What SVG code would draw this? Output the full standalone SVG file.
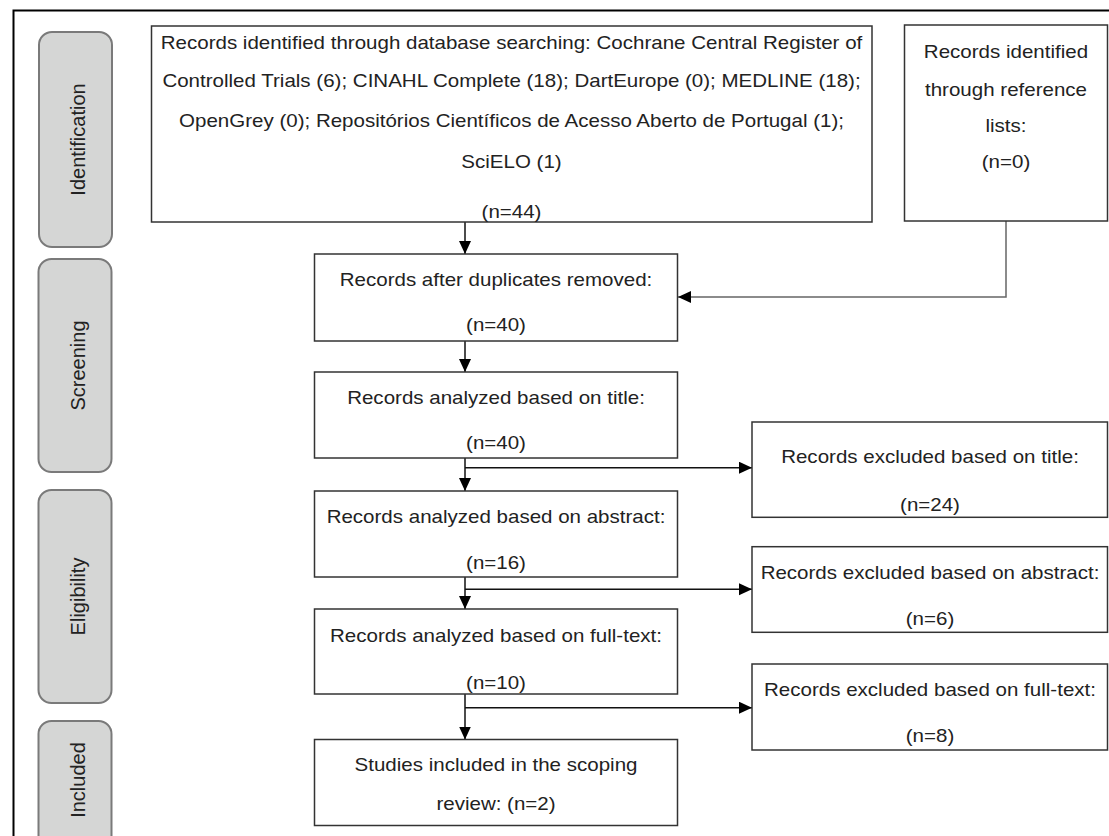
<svg xmlns="http://www.w3.org/2000/svg" width="1109" height="836" viewBox="0 0 1109 836">
<style>
.bg{fill:#ffffff}
.frame{fill:none;stroke:#000;stroke-width:2}
.pill{fill:#d5d6d5;stroke:#7a7a7a;stroke-width:2}
.box{fill:#fff;stroke:#333;stroke-width:1.5}
.t{font-family:"Liberation Sans",Arial,sans-serif;font-size:17.7px;fill:#222;text-anchor:middle}
.pt{font-family:"Liberation Sans",Arial,sans-serif;font-size:20px;fill:#222;text-anchor:middle}
.ln{fill:none;stroke:#111;stroke-width:1.5}
.lg{fill:none;stroke:#666;stroke-width:1.5}
</style>
<defs>
<marker id="ah" markerUnits="userSpaceOnUse" markerWidth="14" markerHeight="14" refX="13" refY="6" orient="auto">
<path d="M0,0 L13,6 L0,12 z" fill="#000"/>
</marker>
</defs>
<rect class="bg" x="0" y="0" width="1109" height="836"/>
<path class="frame" d="M13.5,840 V10.5 H1112"/>

<g id="lane-identification">
<rect class="pill" x="39" y="32" width="73" height="215" rx="13"/>
<text class="pt" transform="translate(85 139.5) rotate(-90)">Identification</text>
</g>
<g id="lane-screening">
<rect class="pill" x="38.5" y="259" width="73" height="213" rx="13"/>
<text class="pt" transform="translate(85 365.5) rotate(-90)">Screening</text>
</g>
<g id="lane-eligibility">
<rect class="pill" x="38.5" y="490" width="73" height="213" rx="13"/>
<text class="pt" transform="translate(85 596.5) rotate(-90)">Eligibility</text>
</g>
<g id="lane-included">
<rect class="pill" x="38.5" y="721" width="73" height="140" rx="13"/>
<text class="pt" transform="translate(85 780) rotate(-90)">Included</text>
</g>

<g id="connectors">
<path class="ln" d="M465,222 V254" marker-end="url(#ah)"/>
<path class="lg" d="M1006,221 V297 H678" marker-end="url(#ah)"/>
<path class="ln" d="M465,341 V372" marker-end="url(#ah)"/>
<path class="ln" d="M465,458 V491" marker-end="url(#ah)"/>
<path class="ln" d="M465,467.7 H752" marker-end="url(#ah)"/>
<path class="ln" d="M465,577 V609" marker-end="url(#ah)"/>
<path class="ln" d="M465,589.3 H752" marker-end="url(#ah)"/>
<path class="ln" d="M465,694 V739.5" marker-end="url(#ah)"/>
<path class="ln" d="M465,707.7 H752" marker-end="url(#ah)"/>
</g>

<g id="node-database">
<rect class="box" x="151.5" y="26" width="720.5" height="196"/>
<text class="t" transform="translate(511.5 48.5) scale(1.16 1)">Records identified through database searching: Cochrane Central Register of</text>
<text class="t" transform="translate(511.5 87) scale(1.16 1)">Controlled Trials (6); CINAHL Complete (18); DartEurope (0); MEDLINE (18);</text>
<text class="t" transform="translate(511.5 127) scale(1.16 1)">OpenGrey (0); Repositórios Científicos de Acesso Aberto de Portugal (1);</text>
<text class="t" transform="translate(511.5 168) scale(1.16 1)">SciELO (1)</text>
<text class="t" transform="translate(511.5 218) scale(1.16 1)">(n=44)</text>
</g>

<g id="node-reference">
<rect class="box" x="904.5" y="25" width="203" height="196"/>
<text class="t" transform="translate(1006 57.5) scale(1.16 1)">Records identified</text>
<text class="t" transform="translate(1006 95.5) scale(1.16 1)">through reference</text>
<text class="t" transform="translate(1006 132) scale(1.16 1)">lists:</text>
<text class="t" transform="translate(1006 167.5) scale(1.16 1)">(n=0)</text>
</g>

<g id="node-duplicates">
<rect class="box" x="314.5" y="254" width="363" height="87"/>
<text class="t" transform="translate(496 286) scale(1.16 1)">Records after duplicates removed:</text>
<text class="t" transform="translate(496 331) scale(1.16 1)">(n=40)</text>
</g>

<g id="node-title">
<rect class="box" x="314.5" y="372" width="363" height="86"/>
<text class="t" transform="translate(496 404) scale(1.16 1)">Records analyzed based on title:</text>
<text class="t" transform="translate(496 449) scale(1.16 1)">(n=40)</text>
</g>

<g id="node-abstract">
<rect class="box" x="314.5" y="491" width="363" height="86"/>
<text class="t" transform="translate(496 522.7) scale(1.16 1)">Records analyzed based on abstract:</text>
<text class="t" transform="translate(496 569) scale(1.16 1)">(n=16)</text>
</g>

<g id="node-fulltext">
<rect class="box" x="314.5" y="609" width="363" height="85"/>
<text class="t" transform="translate(496 642.3) scale(1.16 1)">Records analyzed based on full-text:</text>
<text class="t" transform="translate(496 688.5) scale(1.16 1)">(n=10)</text>
</g>

<g id="node-included">
<rect class="box" x="314.5" y="739.5" width="363" height="86"/>
<text class="t" transform="translate(496 771.3) scale(1.16 1)">Studies included in the scoping</text>
<text class="t" transform="translate(496 809.5) scale(1.16 1)">review: (n=2)</text>
</g>

<g id="node-excl-title">
<rect class="box" x="752" y="422" width="355.5" height="95.3"/>
<text class="t" transform="translate(930 463) scale(1.16 1)">Records excluded based on title:</text>
<text class="t" transform="translate(930 511) scale(1.16 1)">(n=24)</text>
</g>

<g id="node-excl-abstract">
<rect class="box" x="752" y="546.7" width="355.5" height="85.6"/>
<text class="t" transform="translate(930 579) scale(1.16 1)">Records excluded based on abstract:</text>
<text class="t" transform="translate(930 625) scale(1.16 1)">(n=6)</text>
</g>

<g id="node-excl-fulltext">
<rect class="box" x="752" y="664" width="355.5" height="86"/>
<text class="t" transform="translate(930 695.5) scale(1.16 1)">Records excluded based on full-text:</text>
<text class="t" transform="translate(930 741.5) scale(1.16 1)">(n=8)</text>
</g>
</svg>
